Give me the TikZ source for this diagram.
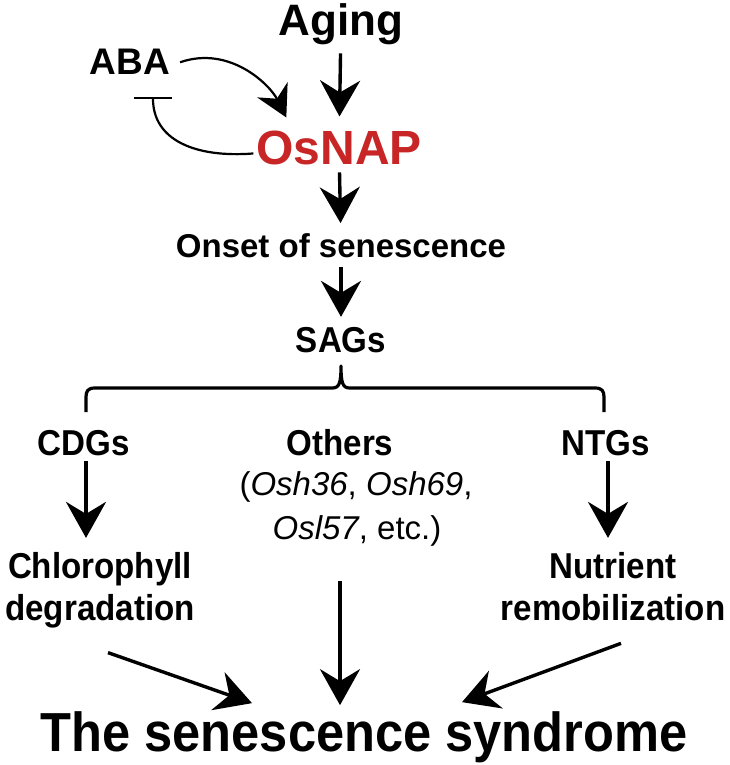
\documentclass[tikz,border=0pt]{standalone}
\usepackage{fontspec}
\setmainfont{Liberation Sans}
\newfontfamily\narrowfont{Liberation Sans}[FakeStretch=0.92]
\usetikzlibrary{arrows.meta}
\definecolor{osred}{RGB}{200,38,38}
\begin{document}
\begin{tikzpicture}[x=1pt,y=-1pt,
  lbl/.style={inner sep=0pt, outer sep=0pt, anchor=base, font=\bfseries\fontsize{33}{40}\selectfont},
  nlbl/.style={inner sep=0pt, outer sep=0pt, anchor=base, font=\narrowfont\bfseries\fontsize{36}{40}\selectfont},
  ital/.style={inner sep=0pt, outer sep=0pt, anchor=base, font=\fontsize{33}{40}\selectfont},
  arr/.style={line width=3.4pt, -{Stealth[length=36pt,width=40pt,inset=12pt]}},
  carr/.style={line width=2.2pt, -{Stealth[length=31pt,width=34pt,inset=10pt]}},
  inh/.style={line width=2.2pt, -{Bar[width=38pt,line width=2.5pt]}},
  bracestyle/.style={line width=3.2pt, line join=round}
  ]
\path[use as bounding box, fill=white] (0,0) rectangle (730,765);
% nodes
\node[lbl, font=\bfseries\fontsize{44}{50}\selectfont] (aging) at (341,36) {Aging};
\node[lbl, font=\bfseries\fontsize{37}{40}\selectfont] (aba) at (130,75) {ABA};
\node[lbl, font=\bfseries\fontsize{48}{50}\selectfont, text=osred] (osnap) at (339,164) {OsNAP};
\node[lbl] (onset) at (341,257) {Onset of senescence};
\node[nlbl] (sags) at (341,352) {SAGs};
\node[nlbl] (cdgs) at (84,455) {CDGs};
\node[nlbl] (others) at (340,455) {Others};
\node[ital] (osh1) at (356,495) {(\textit{Osh36}, \textit{Osh69},};
\node[ital] (osh2) at (357,539) {\textit{Osl57}, etc.)};
\node[nlbl] (ntgs) at (606,455) {NTGs};
\node[nlbl] (chloro) at (100,578) {Chlorophyll};
\node[nlbl] (degr) at (100,620) {degradation};
\node[nlbl] (nutr) at (613,578) {Nutrient};
\node[nlbl] (remob) at (613,620) {remobilization};
\node[nlbl, font=\narrowfont\bfseries\fontsize{55}{60}\selectfont] (synd) at (364,751) {The senescence syndrome};
% brace
\coordinate (braceL) at (86,412);
\coordinate (braceR) at (604,412);
\coordinate (braceTop) at (341,366);
\draw[bracestyle] (braceL) -- (86,397) .. controls (86,391) and (88,388) .. (95,388)
  -- (332,388) .. controls (339,388) and (341,384) .. (braceTop)
  .. controls (341,384) and (343,388) .. (350,388)
  -- (595,388) .. controls (602,388) and (604,391) .. (604,397) -- (braceR);
% arrows
\draw[arr, shorten <=8pt, shorten >=14pt] (aging) -- (osnap);
\draw[arr, shorten <=8pt, shorten >=10pt] (osnap) -- (onset);
\draw[arr, shorten <=10pt, shorten >=10pt] (onset) -- (sags);
\draw[arr, shorten <=6pt, shorten >=14pt] ([xshift=2pt]cdgs.south) -- ([xshift=2pt]cdgs.south |- chloro.north);
\draw[arr, shorten <=6pt, shorten >=14pt] ([xshift=2pt]ntgs.south) -- ([xshift=2pt]ntgs.south |- nutr.north);
\draw[arr, shorten >=6pt] ([yshift=-35pt]osh2.south -| others) -- (synd.north -| others);
\draw[arr] ([xshift=8pt,yshift=-25pt]degr.south) -- ([xshift=-112pt,yshift=8pt]synd.north);
\draw[arr] ([xshift=8pt,yshift=-23pt]remob.south) -- ([xshift=98pt,yshift=9pt]synd.north);
% ABA loop
\draw[carr] ([xshift=10pt]aba.east) .. controls (230,45) and (270,85) .. ([xshift=30pt,yshift=13pt]osnap.north west);
\draw[inh] ([xshift=-3pt,yshift=-6pt]osnap.west) .. controls (195,158) and (153,140) .. ([xshift=23pt,yshift=-22pt]aba.south);
\end{tikzpicture}
\end{document}
